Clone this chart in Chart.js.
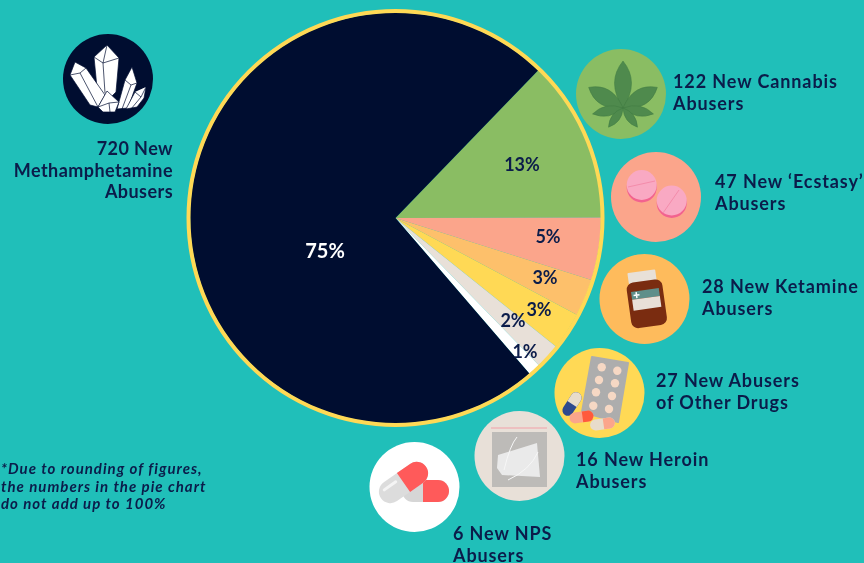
<!DOCTYPE html>
<html>
<head>
<meta charset="utf-8">
<title>New drug abusers</title>
<script src="https://cdn.jsdelivr.net/npm/chart.js@4"></script>
<style>
    html, body { margin: 0; padding: 0; width: 864px; height: 563px; overflow: hidden; background: #20bfb9; }
    #pie, #icons { position: absolute; left: 0; top: 0; }
    .lbl { position: absolute; font: 700 18px/21.5px Lato, sans-serif; letter-spacing: 0.9px; color: #0b1c4a; white-space: pre; }
    .note { position: absolute; left: 1px; top: 460px; font: italic 700 15px/17.5px Lato, sans-serif; letter-spacing: 1px; color: #0b1c4a; white-space: pre; }
</style>
</head>
<body>
<canvas id="pie" width="864" height="563"></canvas>

<svg id="icons" width="864" height="563" xmlns="http://www.w3.org/2000/svg">
    <!-- crystals -->
    <circle cx="108" cy="79" r="45" fill="#000d30"/>
    <g fill="#fff" stroke="#000d30" stroke-width="0.7" stroke-linejoin="round">
        <path d="M94 57L107 45L119 58L116 92L108 100L98 98Z"/>
        <path d="M94 57L103 63L119 58M103 63L105 93M107 45L103 63"/>
        <path d="M70 75L75 62L86 68L105 95L98 107L90 105Z"/>
        <path d="M70 75L80 73L86 68M80 73L98 107"/>
        <path d="M117 109L125 80L132 67L137 83L128 108Z"/>
        <path d="M125 80L131 85L137 83M131 85L122 109"/>
        <path d="M126 109L135 92L146 87L144 98L137 107Z"/>
        <path d="M135 92L141 97L146 87M141 97L131 109"/>
        <path d="M98 107L107 91L119 102L115 112L103 112Z"/>
        <path d="M98 107L109 103L119 102M109 103L110 112"/>
    </g>

    <!-- cannabis -->
    <circle cx="621" cy="94" r="45" fill="#8abd63"/>
    <g fill="#4f8a4d" stroke="#3f7a42" stroke-width="0.5" transform="translate(623 108)">
        <path d="M0 0Q17 -26 0 -47Q-17 -26 0 0Z"/>
        <path d="M0 0Q16 -22 0 -40Q-16 -22 0 0Z" transform="rotate(-59)"/>
        <path d="M0 0Q16 -22 0 -40Q-16 -22 0 0Z" transform="rotate(59)"/>
        <path d="M0 0Q10 -16 0 -31Q-10 -16 0 0Z" transform="rotate(-101)"/>
        <path d="M0 0Q10 -16 0 -31Q-10 -16 0 0Z" transform="rotate(101)"/>
        <path d="M0 0Q8 -12 0 -24Q-8 -12 0 0Z" transform="rotate(-143)"/>
        <path d="M0 0Q8 -12 0 -24Q-8 -12 0 0Z" transform="rotate(143)"/>
    </g>

    <!-- ecstasy -->
    <circle cx="656" cy="197" r="45" fill="#fba58b"/>
    <circle cx="641.7" cy="187.5" r="15" fill="#f2628f"/>
    <circle cx="641.7" cy="185" r="15" fill="#f9a9c3"/>
    <path d="M628 187L655 181" stroke="#f48cab" stroke-width="1"/>
    <circle cx="671.7" cy="203" r="15" fill="#f2628f"/>
    <circle cx="671.7" cy="200.5" r="15" fill="#f9a9c3"/>
    <path d="M663 213L679 190" stroke="#f48cab" stroke-width="1"/>

    <!-- ketamine -->
    <circle cx="644.5" cy="299" r="45" fill="#febb5c"/>
    <g transform="rotate(-8 645 298)">
        <rect x="631" y="271" width="28" height="11" rx="1" fill="#e8e0d8"/>
        <rect x="628" y="281" width="36" height="46" rx="7" fill="#7a2c10"/>
        <rect x="632" y="290" width="28" height="8" fill="#5f8f8a"/>
        <rect x="632" y="298" width="28" height="11" fill="#e8e0d8"/>
        <path d="M634 294H640M637 291V297" stroke="#fff" stroke-width="1.5"/>
    </g>

    <!-- other drugs -->
    <circle cx="599.5" cy="393" r="45" fill="#ffd955"/>
    <path d="M592 357L628 363L618 422L582 412Z" fill="#adadad" stroke="#adadad" stroke-width="2" stroke-linejoin="round"/>
    <g fill="#f6d8c4">
        <circle cx="601.7" cy="367.3" r="4.2"/><circle cx="617.3" cy="370.7" r="4.2"/>
        <circle cx="599" cy="380" r="4.2"/><circle cx="615" cy="383.3" r="4.2"/>
        <circle cx="596" cy="392.3" r="4.2"/><circle cx="612" cy="396" r="4.2"/>
        <circle cx="593.3" cy="405.7" r="4.2"/><circle cx="609" cy="409" r="4.2"/>
    </g>
    <g transform="translate(572 404) rotate(-57)">
        <rect x="-13" y="-5.5" width="26" height="11" rx="5.5" fill="#2e4a8e"/>
        <path d="M0 -5.5H7.5A5.5 5.5 0 0 1 7.5 5.5H0Z" fill="#e8dccb"/>
    </g>
    <g transform="translate(581.5 417) rotate(-8)">
        <rect x="-12" y="-5.5" width="24" height="11" rx="5.5" fill="#fba58b"/>
        <path d="M1 -5.5H6.5A5.5 5.5 0 0 1 6.5 5.5H1Z" fill="#ff5a3c"/>
    </g>
    <g transform="translate(602.5 424) rotate(-8)">
        <rect x="-12.5" y="-5.5" width="25" height="11" rx="5.5" fill="#e8dccb"/>
        <path d="M1 -5.5H7A5.5 5.5 0 0 1 7 5.5H1Z" fill="#fba58b"/>
    </g>

    <!-- heroin -->
    <circle cx="519.5" cy="456" r="45" fill="#e8e0d8"/>
    <path d="M491 428H547" stroke="#f2a0a8" stroke-width="1"/>
    <rect x="492" y="432" width="55" height="55" fill="#bdbbb8"/>
    <path d="M498 455L537 443L540 477L502 475L497 468Z" fill="#eaeaea"/>
    <path d="M504 470Q510 445 517 437M508 480Q530 470 538 452" stroke="#f7f7f7" stroke-width="1" fill="none"/>

    <!-- nps -->
    <circle cx="414.5" cy="487" r="45" fill="#fff"/>
    <rect x="402" y="480" width="47" height="22" rx="11" fill="#d6d6d6"/>
    <path d="M423 480H438A11 11 0 0 1 438 502H423Z" fill="#ff5a5a"/>
    <g transform="translate(403.5 482.5) rotate(-35)">
        <rect x="-27.5" y="-11.5" width="55" height="23" rx="11.5" fill="#dcdcdc"/>
        <path d="M0 -11.5H16A11.5 11.5 0 0 1 16 11.5H0Z" fill="#ff5a5a"/>
        <path d="M-20 -5H-6" stroke="#f4f4f4" stroke-width="3" stroke-linecap="round"/>
    </g>
</svg>

<div id="labels"></div>
<div class="note">*Due to rounding of figures,
the numbers in the pie chart
do not add up to 100%</div>

<script>
// values as printed on the slices, they add up to 102 like in the original
var categories = ['Cannabis', 'Ecstasy', 'Ketamine', 'Other Drugs', 'Heroin', 'NPS', 'Methamphetamine'];
var percents = [13, 5, 3, 3, 2, 1, 75];
var abusers = [122, 47, 28, 27, 16, 6, 720];
var sliceColors = ['#8abd63', '#fba58b', '#fdc06b', '#ffd955', '#e8e0d8', '#ffffff', '#000d30'];
var percentColors = ['#0b1c4a', '#0b1c4a', '#0b1c4a', '#0b1c4a', '#0b1c4a', '#0b1c4a', '#ffffff'];

var captions = [
    ' New Cannabis\nAbusers',
    ' New \u2018Ecstasy\u2019\nAbusers',
    ' New Ketamine\nAbusers',
    ' New Abusers\nof Other Drugs',
    ' New Heroin\nAbusers',
    ' New NPS\nAbusers',
    ' New\nMethamphetamine\nAbusers'
];

// where things sit on the page
var captionLeft = [673, 715, 702, 656, 576, 453, null];
var captionTop = [71, 171, 276, 370, 449, 523, 138];
var percentPos = [[522, 165], [548, 237], [545, 278], [539, 310], [513, 321], [525, 352], [325, 252]];

captions.forEach(function (text, i) {
    var div = document.createElement('div');
    div.className = 'lbl';
    div.textContent = abusers[i] + text;
    div.style.top = captionTop[i] + 'px';
    if (captionLeft[i] === null) {
        div.style.right = (864 - 173) + 'px';
        div.style.textAlign = 'right';
        div.style.letterSpacing = '0.45px';
    } else {
        div.style.left = captionLeft[i] + 'px';
    }
    document.getElementById('labels').appendChild(div);
});

var ringAndLabels = {
    id: 'ringAndLabels',
    afterDatasetsDraw: function (chart) {
        var ctx = chart.ctx;
        var arc = chart.getDatasetMeta(0).data[0];
        ctx.save();
        ctx.beginPath();
        ctx.arc(arc.x, arc.y, arc.outerRadius + 1.5, 0, Math.PI * 2);
        ctx.lineWidth = 4;
        ctx.strokeStyle = '#ffd955';
        ctx.stroke();

        ctx.textAlign = 'center';
        ctx.textBaseline = 'middle';
        percents.forEach(function (p, i) {
            ctx.font = '700 ' + (p === 75 ? 20 : 18) + 'px Lato, sans-serif';
            ctx.fillStyle = percentColors[i];
            ctx.fillText(p + '%', percentPos[i][0], percentPos[i][1]);
        });
        ctx.restore();
    }
};

var pieChart = new Chart(document.getElementById('pie').getContext('2d'), {
    type: 'pie',
    data: {
        labels: categories,
        datasets: [{
            data: percents,
            backgroundColor: sliceColors,
            borderWidth: 0
        }]
    },
    options: {
        responsive: false,
        animation: false,
        rotation: 44,
        radius: 205.5,
        layout: { padding: { left: 0, right: 73, top: 0, bottom: 127 } },
        plugins: {
            legend: { display: false },
            tooltip: { enabled: false }
        }
    },
    plugins: [ringAndLabels]
});
</script>
</body>
</html>
